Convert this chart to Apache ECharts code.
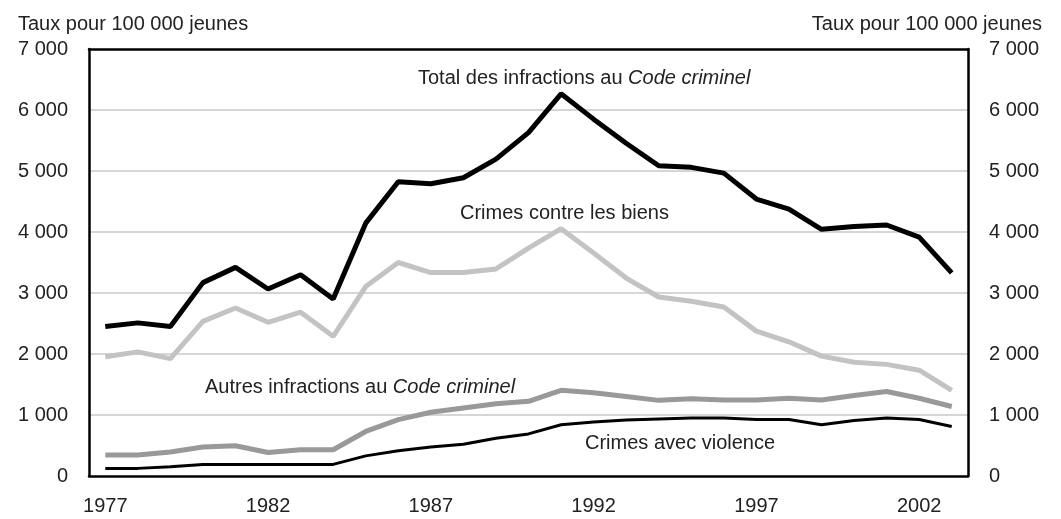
<!DOCTYPE html>
<html>
<head>
<meta charset="utf-8">
<script src="https://cdn.jsdelivr.net/npm/echarts@6/dist/echarts.min.js"></script>
<style>
  html, body { margin: 0; padding: 0; background: #fff; }
  #chart { width: 1061px; height: 519px; }
</style>
</head>
<body>
<div id="chart"></div>
<script>
const years = ['1977','1978','1979','1980','1981','1982','1983','1984','1985','1986','1987','1988','1989','1990',
    '1991','1992','1993','1994','1995','1996','1997','1998','1999','2000','2001','2002','2003'];
const totalCode = [2450, 2510, 2450, 3170, 3420, 3065, 3300, 2900, 4145, 4825, 4790, 4890, 5195, 5630,
    6265, 5850, 5455, 5085, 5060, 4965, 4540, 4375, 4045, 4090, 4115, 3915, 3330];
const property = [1955, 2035, 1925, 2535, 2755, 2520, 2685, 2290, 3105, 3500, 3335, 3335, 3395, 3735,
    4055, 3655, 3245, 2935, 2865, 2770, 2375, 2200, 1965, 1865, 1830, 1735, 1405];
const otherCode = [345, 345, 395, 475, 495, 385, 430, 430, 730, 925, 1045, 1115, 1185, 1225,
    1405, 1365, 1305, 1240, 1265, 1245, 1245, 1275, 1245, 1320, 1385, 1275, 1140];
const violent = [125, 125, 150, 190, 190, 190, 190, 190, 330, 415, 475, 520, 620, 690,
    840, 885, 920, 935, 950, 950, 925, 925, 840, 910, 950, 925, 810];
const yTicks = [0, 1000, 2000, 3000, 4000, 5000, 6000, 7000];

const FONT = "'Liberation Sans', Arial, sans-serif";
const FS = 20;
const TXT = '#222';

const myChart = echarts.init(document.getElementById('chart'));

function fmt(v) {
    return String(v).replace(/\B(?=(\d{3})+(?!\d))/g, ' ');
}

function yAxis(pos) {
    return {
        type: 'value',
        position: pos,
        min: yTicks[0],
        max: yTicks[yTicks.length - 1],
        interval: 1000,
        axisLine: {show: true, lineStyle: {color: '#000', width: 2.5}},
        axisTick: {show: false},
        splitLine: {
            show: pos === 'left',
            showMinLine: false,
            showMaxLine: false,
            lineStyle: {color: '#c8c8c8', width: 1.5}
        },
        axisLabel: {
            margin: 21,
            color: TXT,
            fontFamily: FONT,
            fontSize: FS,
            formatter: fmt
        }
    };
}

function label(text, x, y) {
    return {
        type: 'text',
        x: x,
        y: y,
        z: 10,
        style: {
            text: text,
            fill: TXT,
            fontFamily: FONT,
            fontSize: FS,
            verticalAlign: 'middle',
            rich: {
                i: {fontStyle: 'italic', fontFamily: FONT, fontSize: FS, fill: TXT}
            }
        }
    };
}

function line(name, data, color, width) {
    return {
        name: name,
        type: 'line',
        data: data,
        symbol: 'none',
        lineStyle: {color: color, width: width},
        itemStyle: {color: color},
        animation: false
    };
}

const option = {
    backgroundColor: '#fff',
    title: [
        {text: 'Taux pour 100 000 jeunes', left: 13, top: 9,
            textStyle: {fontFamily: FONT, fontSize: FS, fontWeight: 'normal', color: TXT}},
        {text: 'Taux pour 100 000 jeunes', right: 14, top: 9,
            textStyle: {fontFamily: FONT, fontSize: FS, fontWeight: 'normal', color: TXT}}
    ],
    grid: {
        left: 89, right: 93, top: 49, bottom: 43
    },
    xAxis: [{
        type: 'category',
        data: years,
        boundaryGap: true,
        axisLine: {lineStyle: {color: '#000', width: 2.5}},
        axisTick: {inside: true, length: 10, interval: 0, lineStyle: {color: '#000', width: 2}},
        axisLabel: {
            interval: 4,
            margin: 20,
            color: TXT,
            fontFamily: FONT,
            fontSize: FS
        }
    }, {
        // top border of the frame
        type: 'category',
        data: years,
        position: 'top',
        axisLine: {onZero: false, lineStyle: {color: '#000', width: 2.5}},
        axisTick: {show: false},
        axisLabel: {show: false}
    }],
    yAxis: [yAxis('left'), yAxis('right')],
    graphic: [
        label('Total des infractions au {i|Code criminel}', 418, 78),
        label('Crimes contre les biens', 460, 213),
        label('Autres infractions au {i|Code criminel}', 205, 387),
        label('Crimes avec violence', 585, 443)
    ],
    series: [
        line('Crimes contre les biens', property, '#c3c3c3', 5),
        line('Autres infractions au Code criminel', otherCode, '#999999', 5),
        line('Crimes avec violence', violent, '#000', 3),
        line('Total des infractions au Code criminel', totalCode, '#000', 5)
    ]
};
myChart.setOption(option);
</script>
</body>
</html>
